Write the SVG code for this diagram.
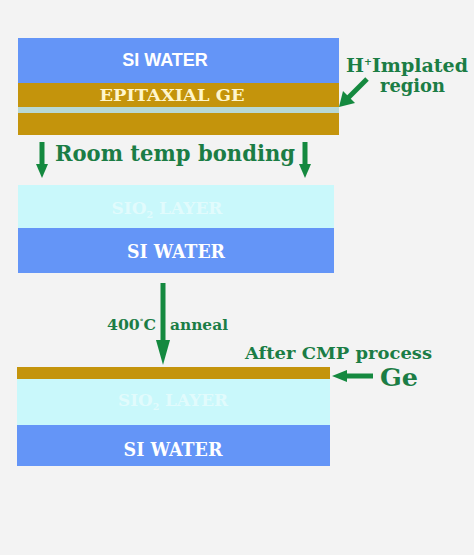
<svg xmlns="http://www.w3.org/2000/svg" width="474" height="555" viewBox="0 0 474 555">
<defs>
<style>
.si{fill:#6495f7}
.ge{fill:#c4940c}
.ox{fill:#c9f8fb}
.lbl{font-family:"DejaVu Serif","Liberation Serif",serif;font-weight:bold;fill:#ffffff;text-anchor:middle}
.grn{font-family:"DejaVu Serif","Liberation Serif",serif;font-weight:bold;fill:#1b7d45}
.ln{stroke:#14893f;stroke-width:5;fill:none}
.hd{fill:#14893f}
</style>
</defs>
<rect width="474" height="555" fill="#f3f3f3"/>
<g id="stack1">
<rect class="si" x="18" y="38" width="321" height="45"/>
<rect class="ge" x="18" y="83" width="321" height="24"/>
<rect x="18" y="107" width="321" height="6" fill="#b8d8d6"/>
<rect class="ge" x="18" y="113" width="321" height="22"/>
<text x="165" y="66" font-family="Liberation Sans,Arial,sans-serif" font-weight="bold" font-size="18" fill="#ffffff" text-anchor="middle">SI WATER</text>
<text class="lbl" x="172" y="101" font-size="16" style="fill:#fff6cc" textLength="145" lengthAdjust="spacingAndGlyphs">EPITAXIAL GE</text>
</g>
<g id="implant-label">
<text class="grn" x="346" y="72" font-size="18" textLength="122" lengthAdjust="spacingAndGlyphs"><tspan>H</tspan><tspan font-size="9" dy="-7">+</tspan><tspan dy="7">Implated</tspan></text>
<text class="grn" x="380" y="92" font-size="18" textLength="65" lengthAdjust="spacingAndGlyphs">region</text>
</g>
<g id="stack2">
<rect class="ox" x="18" y="185" width="316" height="43"/>
<rect class="si" x="18" y="228" width="316" height="45"/>
<text class="lbl" x="167" y="214" font-size="16" style="opacity:0.45" textLength="111" lengthAdjust="spacingAndGlyphs">SIO<tspan font-size="9" dy="4">2</tspan><tspan dy="-4"> LAYER</tspan></text>
<text class="lbl" x="176" y="258" font-size="18" textLength="98" lengthAdjust="spacingAndGlyphs">SI WATER</text>
</g>
<g id="stack3">
<rect class="ge" x="17" y="367" width="313" height="12"/>
<rect class="ox" x="17" y="379" width="313" height="46"/>
<rect class="si" x="17" y="425" width="313" height="41"/>
<text class="lbl" x="173" y="406" font-size="16" style="opacity:0.45" textLength="110" lengthAdjust="spacingAndGlyphs">SIO<tspan font-size="9" dy="4">2</tspan><tspan dy="-4"> LAYER</tspan></text>
<text class="lbl" x="173" y="456" font-size="18" textLength="99" lengthAdjust="spacingAndGlyphs">SI WATER</text>
</g>
<g id="labels">
<text class="grn" x="55" y="161" font-size="21.5" textLength="240" lengthAdjust="spacingAndGlyphs">Room temp bonding</text>
<text class="grn" x="107" y="330" font-size="15" textLength="49" lengthAdjust="spacingAndGlyphs">400<tspan font-size="7" dy="-6">°</tspan><tspan dy="6">C</tspan></text>
<text class="grn" x="170" y="330" font-size="15" textLength="58" lengthAdjust="spacingAndGlyphs">anneal</text>
<text class="grn" x="245" y="359" font-size="17.5" textLength="187" lengthAdjust="spacingAndGlyphs">After CMP process</text>
<text class="grn" x="380" y="386" font-size="25" textLength="38" lengthAdjust="spacingAndGlyphs">Ge</text>
</g>
<g id="connectors">
<line class="ln" x1="367" y1="79" x2="348" y2="98"/>
<polygon class="hd" points="339,107 343,91 355,103"/>
<line class="ln" x1="42" y1="142" x2="42" y2="166"/>
<polygon class="hd" points="36,164 48,164 42,178"/>
<line class="ln" x1="305" y1="142" x2="305" y2="166"/>
<polygon class="hd" points="299,164 311,164 305,178"/>
<line class="ln" x1="163" y1="283" x2="163" y2="342"/>
<polygon class="hd" points="156,340 170,340 163,365"/>
<line class="ln" x1="373" y1="376" x2="344" y2="376"/>
<polygon class="hd" points="347,370 347,382 332,376"/>
</g>
</svg>
